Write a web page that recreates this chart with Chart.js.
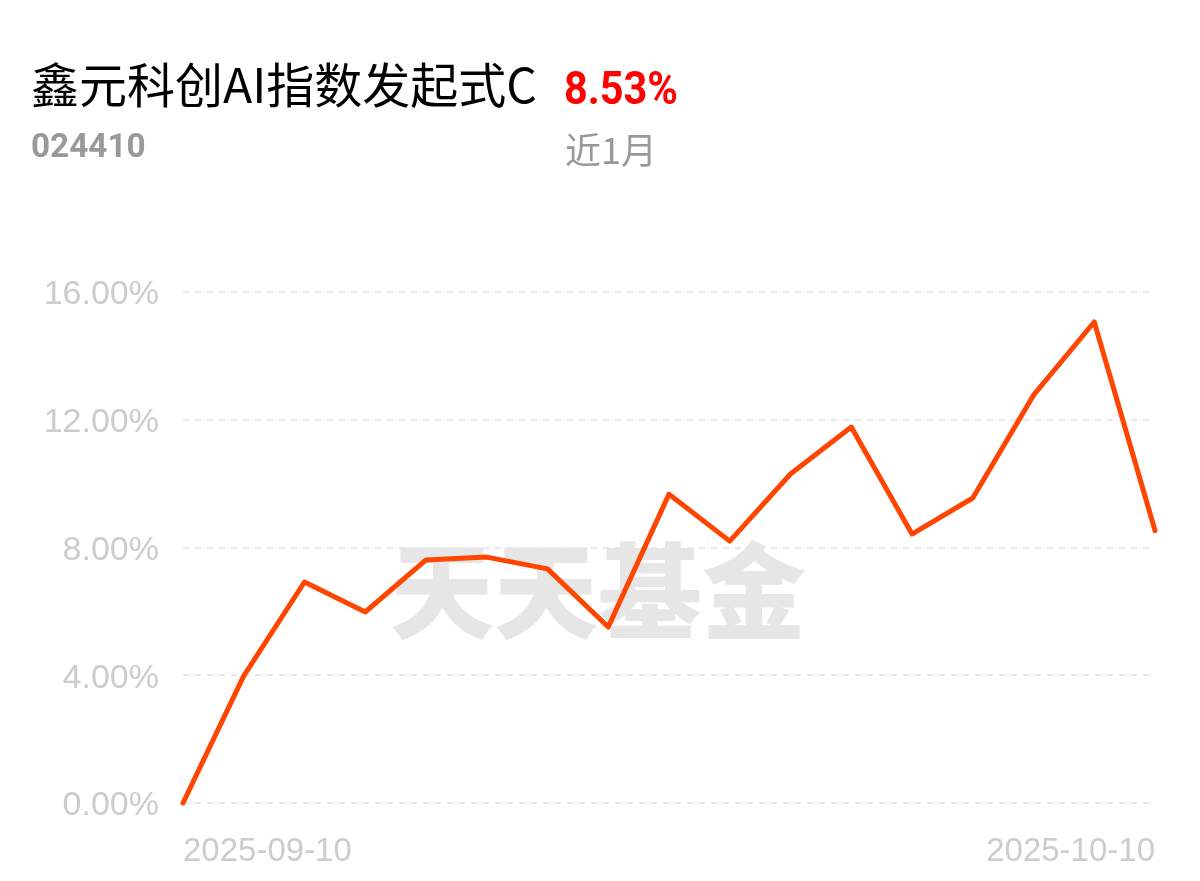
<!DOCTYPE html>
<html>
<head>
<meta charset="utf-8">
<script src="https://cdn.jsdelivr.net/npm/chart.js@4"></script>
<style>
  html, body { margin: 0; padding: 0; background: #fff; width: 1200px; height: 881px; overflow: hidden; }
  #wrap { position: relative; width: 1200px; height: 881px; }
  .t { position: absolute; white-space: nowrap; }
  #title { left: 31px; top: 47px; font: 400 48px "Noto Sans CJK SC", sans-serif; color: #000; }
  #ret { left: 564px; top: 61px; font: 700 46px Roboto, sans-serif; color: #f00; transform: scaleX(0.9); transform-origin: left top; }
  #code { left: 31px; top: 125px; font: 700 34px Roboto, sans-serif; color: #999; transform: scaleX(0.98); transform-origin: left top; }
  #period { left: 565px; top: 122px; font: 400 36px "Noto Sans CJK SC", sans-serif; color: #999; }
  #wm { left: 390px; top: 510px; font: 900 104px "Noto Sans CJK SC", serif; color: #e6e6e6; }
  canvas { position: absolute; left: 0; top: 0; }
</style>
</head>
<body>
<div id="wrap">
  <div class="t" id="wm">天天基金</div>
  <canvas id="c" width="1200" height="881"></canvas>
  <div class="t" id="title">鑫元科创AI指数发起式C</div>
  <div class="t" id="ret">8.53%</div>
  <div class="t" id="code">024410</div>
  <div class="t" id="period">近1月</div>
</div>
<script>
const dates = ["2025-09-10","2025-09-11","2025-09-12","2025-09-15","2025-09-16","2025-09-17","2025-09-18","2025-09-19","2025-09-22","2025-09-23","2025-09-24","2025-09-25","2025-09-26","2025-09-29","2025-09-30","2025-10-09","2025-10-10"];
const returns = [0.00, 3.98, 6.92, 5.98, 7.61, 7.70, 7.33, 5.51, 9.67, 8.20, 10.30, 11.77, 8.42, 9.55, 12.77, 15.06, 8.53];
const yTicks = [0, 4, 8, 12, 16];

new Chart(document.getElementById('c'), {
  type: 'line',
  data: {
    labels: dates,
    datasets: [{
      data: returns,
      borderColor: '#ff4500',
      borderWidth: 5,
      pointRadius: 0,
      tension: 0,
      borderCapStyle: 'round',
      borderJoinStyle: 'round',
      clip: false
    }]
  },
  options: {
    responsive: false,
    animation: false,
    devicePixelRatio: 1,
    layout: { padding: { top: 292, right: 45, bottom: 0, left: 0 } },
    plugins: { legend: { display: false }, tooltip: { enabled: false } },
    scales: {
      x: {
        grid: { display: false, drawTicks: false },
        border: { display: false },
        afterFit: s => { s.height = 78; },
        ticks: {
          autoSkip: false,
          maxRotation: 0,
          align: 'inner',
          padding: 29,
          color: '#cccccc',
          font: { family: 'Liberation Sans, Arial, sans-serif', size: 33 },
          callback: function(v, i) { return (i === 0 || i === dates.length - 1) ? dates[i] : ''; }
        }
      },
      y: {
        min: 0, max: 16,
        afterBuildTicks: s => { s.ticks = yTicks.map(v => ({ value: v })); },
        afterFit: s => { s.width = 183; },
        grid: { color: '#e8e8e8', lineWidth: 2, drawTicks: false },
        border: { display: false, dash: [6, 6] },
        ticks: {
          padding: 24,
          labelOffset: 3,
          color: '#cccccc',
          font: { family: 'Liberation Sans, Arial, sans-serif', size: 34 },
          callback: v => v.toFixed(2) + '%'
        }
      }
    }
  }
});
</script>
</body>
</html>
